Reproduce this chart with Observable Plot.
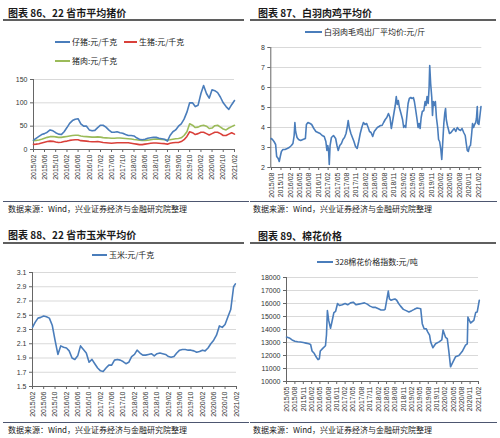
<!DOCTYPE html>
<html><head><meta charset="utf-8">
<script src="https://cdn.jsdelivr.net/npm/d3@7"></script>
<script src="https://cdn.jsdelivr.net/npm/@observablehq/plot@0.6"></script>
<style>
html,body{margin:0;padding:0;background:#fff;}
#root{position:relative;width:500px;height:438px;overflow:hidden;font-family:"Noto Sans CJK SC",sans-serif;color:#1a1a1a;}
.abs{position:absolute;white-space:nowrap;}
.title{font-size:10px;line-height:12px;font-weight:700;}
.hr{height:2px;background:#5f5f5f;}
.sr{height:1px;background:#4d5670;}
.src{font-size:8px;line-height:10px;}
.leg{font-size:8px;line-height:10px;}
.sw{height:2px;}
svg{overflow:visible;}
</style>
</head><body><div id="root"></div>
<script>
// ---------- DATA ----------
const pigStart = "2015-02";
const pigTickLabels = ["2015/02","2015/06","2015/10","2016/02","2016/06","2016/10","2017/02","2017/06","2017/10","2018/02","2018/06","2018/10","2019/02","2019/06","2019/10","2020/02","2020/06","2020/10","2021/02"];
const pigYTicks = [0,50,100,150];
const pigletValues = [20,24,28,32,34,37,42,40,36,33,32,
 38,47,56,62,65,66,55,50,50,42,40,41,
 47,52,52,48,42,37,37,38,36,35,32,30,
 30,29,25,22,21,22,24,25,26,26,24,23,
 22,18,30,38,42,50,55,65,80,100,100,92,
 95,120,137,120,110,128,126,122,112,100,92,86,
 96,105];
const hogValues = [11,11.5,12.5,14,15.5,17,18,17.5,16,15,15.5,
 17,18,19.5,20.5,21,21,19,18.5,18,17,16.5,16.5,
 17,16,15,14.5,14,13.5,14,14.5,14.5,14.5,14.5,14.5,
 13.5,12.5,11.5,10.5,10.5,11.5,12.5,13.5,14,14,13.5,13,
 12.5,11.5,13.5,14.5,15,15,17,21,28,38,36,32,
 34,37,37,34,31,34,37,37,34,30,30,33,
 36,33];
const porkValues = [19,19.5,20.5,22,24,26,27.5,28,27,26,26,
 27,28,29,30,30.5,30.5,29,28,27.5,27,26.5,26.5,
 27,26.5,25.5,25,24.5,24,24,24.5,24.5,24,23.5,23,
 22.5,21.5,21,20,19.5,19.5,20,21,22,22.5,22,21.5,
 21,20.5,21,22,23,23.5,25,30,38,55,52,47,
 48,51,52,50,45,46,51,52,48,44,42,46,
 49,52];
const pigSeries = ["仔猪:元/千克","生猪:元/千克","猪肉:元/千克"];

const chickenTickLabels = ["2015/08","2015/11","2016/02","2016/05","2016/08","2016/11","2017/02","2017/05","2017/08","2017/11","2018/02","2018/05","2018/08","2018/11","2019/02","2019/05","2019/08","2019/11","2020/02","2020/05","2020/08","2020/11","2021/02"];
const chickenYTicks = [2,3,4,5,6,7,8];
const chickenDates = ["2015-07-28","2015-08-10","2015-08-25","2015-09-10","2015-09-20","2015-10-05","2015-10-15","2015-10-25","2015-11-05","2015-11-20","2015-12-10","2016-01-01","2016-01-20","2016-02-10","2016-02-25","2016-03-08","2016-03-15","2016-03-22","2016-04-05","2016-04-20","2016-05-10","2016-06-01","2016-06-25","2016-07-05","2016-07-20","2016-08-10","2016-08-25","2016-09-15","2016-10-05","2016-10-25","2016-11-15","2016-12-05","2016-12-25","2017-01-10","2017-01-20","2017-01-28","2017-02-05","2017-02-12","2017-02-20","2017-03-05","2017-03-25","2017-04-15","2017-04-28","2017-05-10","2017-05-25","2017-06-10","2017-06-25","2017-07-10","2017-07-25","2017-08-05","2017-08-15","2017-08-25","2017-09-10","2017-09-25","2017-10-10","2017-10-25","2017-11-10","2017-11-25","2017-12-10","2017-12-25","2018-01-10","2018-01-25","2018-02-10","2018-02-25","2018-03-10","2018-03-25","2018-04-10","2018-04-25","2018-05-10","2018-05-25","2018-06-10","2018-06-25","2018-07-10","2018-07-25","2018-08-10","2018-08-25","2018-09-10","2018-09-25","2018-10-08","2018-10-20","2018-11-05","2018-11-15","2018-11-25","2018-12-05","2018-12-15","2018-12-25","2019-01-10","2019-01-25","2019-02-05","2019-02-15","2019-02-25","2019-03-10","2019-03-20","2019-04-01","2019-04-15","2019-04-28","2019-05-10","2019-05-20","2019-06-01","2019-06-15","2019-06-25","2019-07-05","2019-07-15","2019-07-25","2019-08-05","2019-08-20","2019-09-01","2019-09-10","2019-09-20","2019-10-01","2019-10-10","2019-10-16","2019-10-25","2019-11-05","2019-11-12","2019-11-20","2019-12-01","2019-12-10","2019-12-20","2020-01-01","2020-01-10","2020-01-20","2020-02-01","2020-02-10","2020-02-20","2020-03-01","2020-03-10","2020-03-18","2020-03-25","2020-04-05","2020-04-15","2020-04-25","2020-05-10","2020-05-25","2020-06-10","2020-06-25","2020-07-10","2020-07-25","2020-08-10","2020-08-25","2020-09-10","2020-09-25","2020-10-05","2020-10-15","2020-10-25","2020-11-05","2020-11-15","2020-11-25","2020-12-05","2020-12-15","2020-12-25","2021-01-05","2021-01-12","2021-01-20","2021-01-25","2021-02-05","2021-02-15","2021-02-25"];
const chickenValues = [3.45,3.40,3.30,3.15,2.55,2.45,2.30,2.55,2.80,2.90,2.90,2.95,3.00,3.10,3.20,3.60,4.25,3.80,3.50,3.40,3.35,3.40,3.45,4.15,4.25,4.20,4.15,3.95,3.80,3.75,3.70,3.60,3.55,3.30,2.85,3.10,2.90,2.15,3.10,3.50,3.60,3.45,3.10,2.85,3.10,3.20,3.40,3.50,3.70,4.00,4.35,4.00,3.70,3.50,3.30,3.05,2.95,3.30,3.70,4.00,4.25,4.15,4.20,4.00,3.80,3.75,3.55,3.80,3.90,4.00,4.05,4.10,4.10,4.25,4.40,4.50,4.70,4.50,3.95,4.30,4.80,5.10,5.55,5.15,5.35,5.00,4.70,4.40,4.00,4.10,4.00,4.70,5.20,5.45,5.50,5.45,5.50,5.30,4.90,4.40,4.00,4.20,3.95,4.50,4.80,4.85,5.30,5.10,5.55,5.20,6.00,7.10,6.20,5.50,4.60,5.30,5.10,5.30,4.50,4.00,3.40,3.30,2.90,2.40,3.30,4.20,4.70,4.95,4.40,4.10,3.90,3.70,3.75,3.85,3.95,3.80,4.00,3.90,3.85,3.95,3.75,3.60,3.20,2.85,2.80,3.05,3.10,3.60,4.20,4.00,4.15,4.25,4.45,5.05,4.20,4.15,4.60,5.05];
const chickenSeries = "白羽肉毛鸡出厂平均价:元/斤";

const cornStart = "2015-02";
const cornTickLabels = pigTickLabels;
const cornYTicks = [1.5,1.7,1.9,2.1,2.3,2.5,2.7,2.9,3.1];
const cornValues = [2.33,2.40,2.46,2.47,2.49,2.48,2.46,2.36,2.15,1.95,2.07,
 2.05,2.04,2.00,1.90,1.88,1.93,2.07,2.02,1.97,1.84,1.88,1.82,
 1.76,1.72,1.71,1.76,1.80,1.80,1.87,1.88,1.87,1.85,1.82,1.84,
 1.92,1.95,2.01,1.97,1.94,1.94,1.95,1.96,1.93,1.96,1.97,1.96,
 1.95,1.92,1.91,1.92,1.97,2.01,2.02,2.02,2.01,2.01,2.00,1.98,
 1.99,2.01,2.00,2.04,2.10,2.15,2.22,2.35,2.33,2.37,2.48,2.58,
 2.90,2.94];
const cornSeries = "玉米:元/千克";

const cottonTickLabels = ["2015/05","2015/08","2015/11","2016/02","2016/05","2016/08","2016/11","2017/02","2017/05","2017/08","2017/11","2018/02","2018/05","2018/08","2018/11","2019/02","2019/05","2019/08","2019/11","2020/02","2020/05","2020/08","2020/11","2021/02"];
const cottonYTicks = [10000,11000,12000,13000,14000,15000,16000,17000,18000];
const cottonDates = ["2015-05-01","2015-06-01","2015-07-01","2015-08-01","2015-09-01","2015-10-01","2015-11-01","2015-12-01","2016-01-01","2016-01-20","2016-02-05","2016-03-01","2016-03-20","2016-04-10","2016-04-25","2016-05-05","2016-06-01","2016-07-01","2016-07-12","2016-07-22","2016-08-05","2016-08-25","2016-09-10","2016-10-01","2016-10-20","2016-11-10","2016-12-01","2017-01-01","2017-02-01","2017-03-01","2017-04-01","2017-05-01","2017-06-01","2017-07-01","2017-08-01","2017-09-01","2017-10-01","2017-11-01","2017-12-01","2018-01-01","2018-02-01","2018-03-01","2018-04-01","2018-04-15","2018-05-20","2018-06-01","2018-06-20","2018-07-10","2018-08-01","2018-08-20","2018-09-10","2018-10-01","2018-11-01","2018-12-01","2019-01-01","2019-02-01","2019-03-01","2019-04-01","2019-05-10","2019-05-27","2019-06-15","2019-07-10","2019-07-27","2019-08-15","2019-08-27","2019-09-20","2019-10-20","2019-11-27","2019-12-27","2020-01-10","2020-02-06","2020-02-25","2020-03-12","2020-04-01","2020-04-18","2020-05-25","2020-07-01","2020-08-06","2020-09-12","2020-10-01","2020-10-08","2020-11-06","2020-12-12","2021-01-01","2021-01-18","2021-02-10"];
const cottonValues = [13420,13350,13200,13100,13060,13040,13000,12950,12900,12850,12350,12150,11900,11680,11750,12350,12550,12750,13600,15450,14700,14100,14600,15300,15400,16000,15850,15900,16000,15900,16050,16100,15900,15950,16000,16050,15950,15800,15700,15700,15600,15500,15500,15550,16950,16350,16250,16300,16350,16250,16000,15800,15550,15450,15350,15450,15550,15650,15600,14450,14070,14050,13800,13560,13050,12600,12900,13050,13200,13950,13400,13300,12400,11130,11380,11900,12000,12300,12800,12900,14950,14500,14700,15300,15350,16250];
const cottonSeries = "328棉花价格指数:元/吨";

// ---------- HELPERS ----------
const BLUE = "#4a7dbb", RED = "#d9403a", GREEN = "#9bbb59";
const parseM = d3.utcParse("%Y/%m");
const parseD = d3.utcParse("%Y-%m-%d");
const root = document.getElementById("root");

function addDiv(cls, style, text) {
  const d = document.createElement("div");
  d.className = "abs " + cls;
  Object.assign(d.style, style);
  if (text) d.textContent = text;
  root.appendChild(d);
  return d;
}
function legend(x, cy, color, label, sw = 15) {
  addDiv("sw", {left: x + "px", top: (cy - 1) + "px", width: sw + "px", background: color});
  addDiv("leg", {left: (x + sw + 2) + "px", top: (cy - 5) + "px"}, label);
}
function panel(o) {
  const svg = Plot.plot({
    width: o.width, height: o.height,
    marginLeft: o.ml, marginRight: o.mr, marginTop: o.mt, marginBottom: o.mb,
    x: {type: "utc", domain: o.xDomain},
    y: {domain: o.yDomain},
    style: {fontSize: "7px", fontFamily: "'Liberation Sans', Arial, sans-serif", color: "#333", background: "transparent", overflow: "visible"},
    marks: [
      Plot.gridY(o.yTicks, {stroke: "#d9d9d9", strokeOpacity: 1}),
      Plot.axisY(o.yTicks, {tickSize: 3, tickPadding: 3, tickFormat: o.yFmt, stroke: "#666", label: null}),
      Plot.axisX(o.xTicks, {tickSize: 3, tickRotate: -90, tickPadding: 2, tickFormat: d3.utcFormat("%Y/%m"), stroke: "#666", label: null}),
      Plot.ruleX([o.xDomain[0]], {stroke: "#666"}),
      Plot.ruleY([o.yDomain[0]], {stroke: "#666"}),
      ...o.lines.map(l => Plot.line(l.data, {x: "date", y: "value", stroke: l.color, strokeWidth: 1.6}))
    ]
  });
  svg.style.position = "absolute";
  svg.style.left = o.left + "px";
  svg.style.top = o.top + "px";
  root.appendChild(svg);
}
function monthly(start, values) {
  const s = d3.utcParse("%Y-%m")(start);
  return values.map((v, i) => ({date: d3.utcMonth.offset(s, i), value: v}));
}

// ---------- PANEL 1: pig ----------
addDiv("title", {left: "8px", top: "7px"}, "图表 86、22 省市平均猪价");
addDiv("hr", {left: "3px", top: "19px", width: "241px"});
legend(55, 42, BLUE, pigSeries[0]);
legend(124, 42, RED, pigSeries[1], 13);
legend(55, 61, GREEN, pigSeries[2]);
panel({
  left: 0, top: 70, width: 250, height: 125, ml: 33, mr: 16, mt: 9, mb: 46,
  xDomain: [parseM("2015/02"), parseM("2021/02")], yDomain: [0, 150],
  yTicks: pigYTicks, yFmt: d3.format("d"), xTicks: pigTickLabels.map(parseM),
  lines: [
    {data: monthly(pigStart, porkValues), color: GREEN},
    {data: monthly(pigStart, hogValues), color: RED},
    {data: monthly(pigStart, pigletValues), color: BLUE}
  ]
});
addDiv("sr", {left: "3px", top: "201px", width: "246px"});
addDiv("src", {left: "8px", top: "204px"}, "数据来源：Wind，兴业证券经济与金融研究院整理");

// ---------- PANEL 2: chicken ----------
addDiv("title", {left: "258px", top: "7px"}, "图表 87、白羽肉鸡平均价");
addDiv("hr", {left: "250px", top: "19px", width: "246px"});
legend(305, 32, BLUE, chickenSeries, 17);
panel({
  left: 250, top: 40, width: 250, height: 160, ml: 20.3, mr: 18.7, mt: 7, mb: 33,
  xDomain: [parseD("2015-07-25"), parseD("2021-03-05")], yDomain: [2, 8],
  yTicks: chickenYTicks, yFmt: d3.format("d"), xTicks: chickenTickLabels.map(parseM),
  lines: [{data: chickenDates.map((d, i) => ({date: parseD(d), value: chickenValues[i]})), color: BLUE}]
});
addDiv("sr", {left: "250px", top: "201px", width: "247px"});
addDiv("src", {left: "253px", top: "204px"}, "数据来源：Wind，兴业证券经济与金融研究院整理");

// ---------- PANEL 3: corn ----------
addDiv("title", {left: "8px", top: "229px"}, "图表 88、22 省市玉米平均价");
addDiv("hr", {left: "3px", top: "242px", width: "241px"});
legend(92, 255, BLUE, cornSeries);
const cornData = monthly(cornStart, cornValues.slice(0, -1));
cornData.push({date: parseD("2021-01-20"), value: cornValues[cornValues.length - 1]});
panel({
  left: 0, top: 262, width: 250, height: 158, ml: 32, mr: 14, mt: 10, mb: 34,
  xDomain: [parseM("2015/02"), parseM("2021/02")], yDomain: [1.5, 3.1],
  yTicks: cornYTicks, yFmt: d3.format(".1f"), xTicks: cornTickLabels.map(parseM),
  lines: [{data: cornData, color: BLUE}]
});
addDiv("sr", {left: "3px", top: "422px", width: "246px"});
addDiv("src", {left: "8px", top: "425px"}, "数据来源：Wind，兴业证券经济与金融研究院整理");

// ---------- PANEL 4: cotton ----------
addDiv("title", {left: "258px", top: "230px"}, "图表 89、棉花价格");
addDiv("hr", {left: "250px", top: "242px", width: "246px"});
legend(317, 262, BLUE, cottonSeries, 16);
panel({
  left: 250, top: 270, width: 250, height: 150, ml: 36, mr: 22, mt: 7, mb: 39,
  xDomain: [parseM("2015/05"), parseM("2021/02")], yDomain: [10000, 18000],
  yTicks: cottonYTicks, yFmt: d3.format("d"), xTicks: cottonTickLabels.map(parseM),
  lines: [{data: cottonDates.map((d, i) => ({date: parseD(d), value: cottonValues[i]})), color: BLUE}]
});
addDiv("sr", {left: "250px", top: "422px", width: "247px"});
addDiv("src", {left: "253px", top: "425px"}, "数据来源：Wind，兴业证券经济与金融研究院整理");
</script>
</body></html>
